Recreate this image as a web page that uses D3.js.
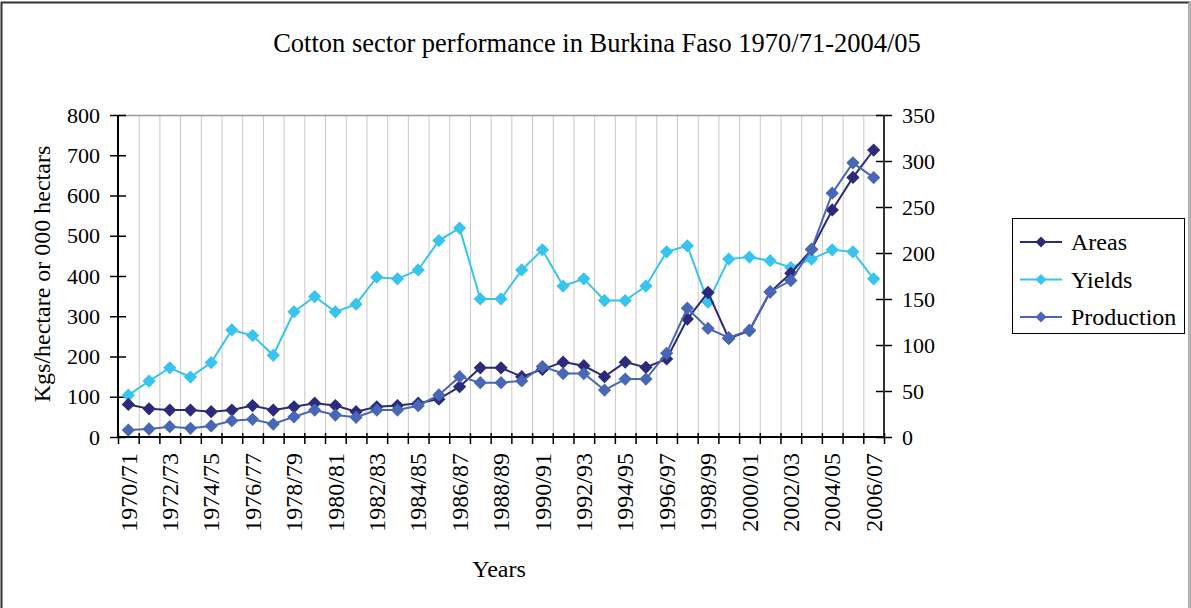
<!DOCTYPE html>
<html>
<head>
<meta charset="utf-8">
<script src="https://cdn.jsdelivr.net/npm/d3@7"></script>
<style>
  body { margin: 0; background: #fff; }
  text { font-family: "Liberation Serif", "Times New Roman", serif; fill: #000; }
</style>
</head>
<body>
<script>
// data
const years = ['1970/71','1971/72','1972/73','1973/74','1974/75','1975/76','1976/77','1977/78',
  '1978/79','1979/80','1980/81','1981/82','1982/83','1983/84','1984/85','1985/86','1986/87',
  '1987/88','1988/89','1989/90','1990/91','1991/92','1992/93','1993/94','1994/95','1995/96',
  '1996/97','1997/98','1998/99','1999/00','2000/01','2001/02','2002/03','2003/04','2004/05',
  '2005/06','2006/07'];
// Kgs/hectare
const yields = [104,139,172,149,185,266,252,203,311,349,311,330,397,393,415,488,519,
  343,343,415,465,375,393,339,339,375,460,475,335,442,447,438,421,442,465,460,393];
// 000 hectares
const areas = [81,70,67,67,63,67,78,67,75,84,78,63,75,78,84,94,125,
  172,172,150,168,186,177,150,186,173,194,293,359,245,264,360,407,466,564,645,713];
// 000 tons (right axis)
const production = [7.6,8.7,11.2,9.4,12,17.7,19.2,14.1,22,29.3,23.9,21.4,29.3,29.3,34,45.7,65.6,
  59,59,61,76.5,69,69,51,63,63,91,140,118,108,116,158,170,204,265,298,282];
const leftTicks = [0,100,200,300,400,500,600,700,800];
const rightTicks = [0,50,100,150,200,250,300,350];

const W = 1191, H = 608;
const plot = {left: 118, right: 884, top: 115, bottom: 437};
const serif = '"Liberation Serif", "Times New Roman", serif';

const svg = d3.select('body').append('svg')
    .attr('width', W)
    .attr('height', H);

// outer frame
svg.append('rect')
    .attr('x', 1.5).attr('y', 2.5)
    .attr('width', 1188).attr('height', 640)
    .attr('fill', 'none').attr('stroke', '#333').attr('stroke-width', 2);
svg.append('line')
    .attr('x1', 1189.5).attr('x2', 1189.5).attr('y1', 2).attr('y2', H)
    .attr('stroke', '#bbb').attr('stroke-width', 2);

const x = d3.scaleBand().domain(years).range([plot.left, plot.right]);
const yL = d3.scaleLinear().domain([0, 800]).range([plot.bottom, plot.top]);
const yR = d3.scaleLinear().domain([0, 350]).range([plot.bottom, plot.top]);
const cx = d => x(d) + x.bandwidth() / 2;

// vertical gridlines at category boundaries
svg.append('g').selectAll('line')
  .data(years.slice(1))
  .join('line')
    .attr('x1', d => x(d) + 0.5).attr('x2', d => x(d) + 0.5)
    .attr('y1', plot.top).attr('y2', plot.bottom)
    .attr('stroke', '#c8c8c8').attr('stroke-width', 1);

// top border of plot area
svg.append('line')
    .attr('x1', plot.left).attr('x2', plot.right)
    .attr('y1', plot.top + 0.5).attr('y2', plot.top + 0.5)
    .attr('stroke', '#999').attr('stroke-width', 1.5);

// left axis
const gL = svg.append('g').attr('transform', `translate(${plot.left},0)`)
    .call(d3.axisLeft(yL).tickValues(leftTicks).tickSize(8).tickPadding(10).tickFormat(d3.format('d')));
gL.selectAll('.tick line').attr('x2', 8).attr('x1', -8);
// right axis
const gR = svg.append('g').attr('transform', `translate(${plot.right},0)`)
    .call(d3.axisRight(yR).tickValues(rightTicks).tickSize(8).tickPadding(10).tickFormat(d3.format('d')));
gR.selectAll('.tick line').attr('x1', -8).attr('x2', 8);

[gL, gR].forEach(g => {
  g.attr('font-family', serif);
  g.select('.domain').remove();
  g.selectAll('.tick line').attr('stroke', '#000').attr('stroke-width', 1.5);
  g.selectAll('.tick text').style('font-size', '22px').style('font-family', serif);
});
svg.append('line').attr('x1', plot.left).attr('x2', plot.left)
    .attr('y1', plot.top).attr('y2', plot.bottom).attr('stroke', '#000').attr('stroke-width', 2);
svg.append('line').attr('x1', plot.right).attr('x2', plot.right)
    .attr('y1', plot.top).attr('y2', plot.bottom).attr('stroke', '#333').attr('stroke-width', 2);

// bottom axis: ticks at category boundaries
svg.append('g').selectAll('line')
  .data(years.concat(['end']))
  .join('line')
    .attr('x1', (d, i) => (i < years.length ? x(d) : plot.right) + 0.5)
    .attr('x2', (d, i) => (i < years.length ? x(d) : plot.right) + 0.5)
    .attr('y1', plot.bottom - 4).attr('y2', plot.bottom + 7)
    .attr('stroke', '#000').attr('stroke-width', 1.5);
svg.append('line').attr('x1', plot.left).attr('x2', plot.right)
    .attr('y1', plot.bottom).attr('y2', plot.bottom).attr('stroke', '#000').attr('stroke-width', 2);

svg.append('g').selectAll('text')
  .data(years.filter((d, i) => i % 2 === 0))
  .join('text')
    .attr('transform', d => `translate(${cx(d)},453) rotate(-90)`)
    .attr('text-anchor', 'end')
    .attr('dy', '0.34em')
    .style('font-size', '24px')
    .style('font-family', serif)
    .text(d => d);

// series
const series = [
  {name: 'Areas', values: areas, y: yL, color: '#2c2a7a'},
  {name: 'Yields', values: yields, y: yL, color: '#38c4ee'},
  {name: 'Production', values: production, y: yR, color: '#4867b7'}
];
const diamond = d3.symbol(d3.symbolSquare, 88);

// draw order: yields under, then areas, production on top
[series[1], series[0], series[2]].forEach(s => {
  const line = d3.line().x((d, i) => cx(years[i])).y(d => s.y(d));
  svg.append('path')
      .attr('d', line(s.values))
      .attr('fill', 'none').attr('stroke', s.color).attr('stroke-width', 2);
  svg.append('g').selectAll('path')
    .data(s.values)
    .join('path')
      .attr('d', diamond)
      .attr('transform', (d, i) => `translate(${cx(years[i])},${s.y(d)}) rotate(45)`)
      .attr('fill', s.color);
});

// titles
svg.append('text')
    .attr('x', 597).attr('y', 52)
    .attr('text-anchor', 'middle')
    .style('font-size', '26.5px')
    .text('Cotton sector performance in Burkina Faso 1970/71-2004/05');
svg.append('text')
    .attr('x', 499).attr('y', 577)
    .attr('text-anchor', 'middle')
    .style('font-size', '24px')
    .text('Years');
svg.append('text')
    .attr('transform', 'translate(50,274) rotate(-90)')
    .attr('text-anchor', 'middle')
    .style('font-size', '24px')
    .text('Kgs/hectare or 000 hectars');

// right axis title, clipped at the top like the source
svg.append('clipPath').attr('id', 'rclip')
  .append('rect').attr('x', 930).attr('y', 228).attr('width', 60).attr('height', 120);
svg.append('text')
    .attr('clip-path', 'url(#rclip)')
    .attr('transform', 'translate(970,320) rotate(-90)')
    .attr('text-anchor', 'start')
    .style('font-size', '27px')
    .text('000 tons');

// legend
const legend = svg.append('g');
legend.append('rect')
    .attr('x', 1012.5).attr('y', 218.5).attr('width', 172).attr('height', 115)
    .attr('fill', '#fff').attr('stroke', '#000').attr('stroke-width', 1);
const item = legend.selectAll('g.item')
  .data(series)
  .join('g').attr('class', 'item')
    .attr('transform', (d, i) => `translate(0,${242 + i * 37.5})`);
item.append('line')
    .attr('x1', 1020).attr('x2', 1062)
    .attr('stroke', d => d.color).attr('stroke-width', 2);
item.append('path')
    .attr('d', d3.symbol(d3.symbolSquare, 60))
    .attr('transform', 'translate(1041,0) rotate(45)')
    .attr('fill', d => d.color);
item.append('text')
    .attr('x', 1071).attr('dy', '0.35em')
    .style('font-size', '24px')
    .text(d => d.name);
</script>
</body>
</html>
